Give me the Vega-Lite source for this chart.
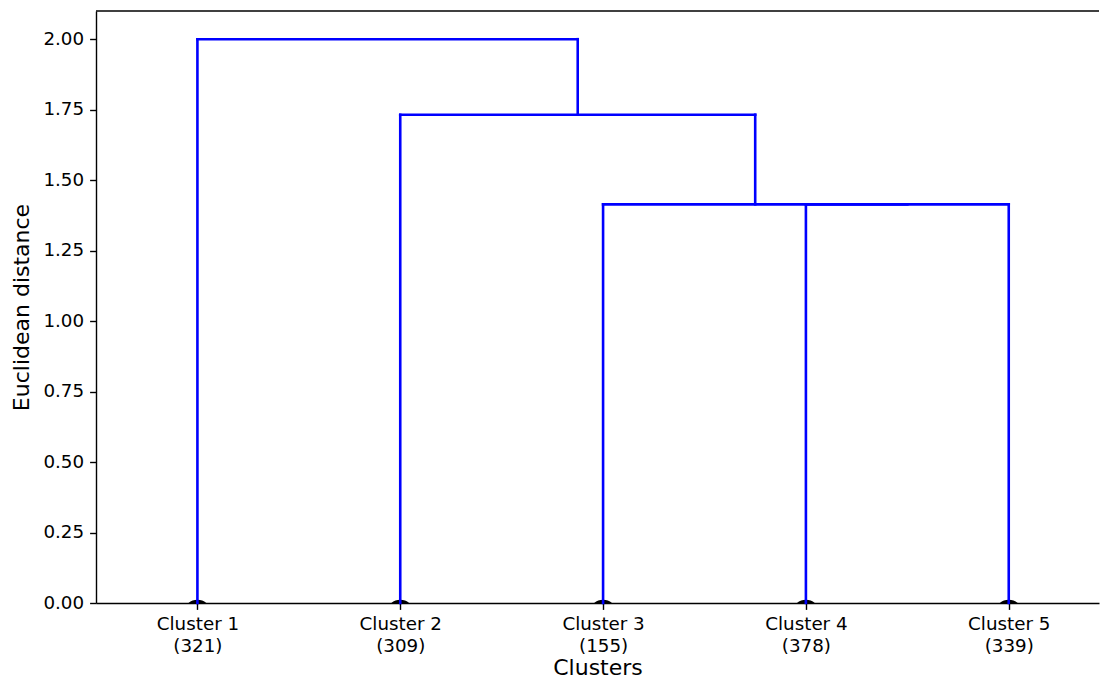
{
  "$schema": "https://vega.github.io/schema/vega-lite/v6.json",
  "autosize": "none",
  "width": 1003,
  "height": 592,
  "padding": {"left": 96, "top": 11, "right": 2, "bottom": 77},
  "background": "white",
  "config": {
    "font": "DejaVu Sans",
    "view": {"stroke": null},
    "axis": {
      "grid": false,
      "domainColor": "black",
      "domainWidth": 1.4,
      "tickColor": "black",
      "tickWidth": 1.4,
      "tickSize": 6.4,
      "labelFont": "DejaVu Sans",
      "labelFontSize": 18.3,
      "labelColor": "black",
      "labelPadding": 6,
      "titleFont": "DejaVu Sans",
      "titleFontSize": 22,
      "titleFontWeight": "normal",
      "titleColor": "black"
    }
  },
  "datasets": {
    "links": [
      {"xa": 35, "ya": 0, "xb": 35, "yb": 1.4142},
      {"xa": 35, "ya": 1.4142, "xb": 45, "yb": 1.4142},
      {"xa": 45, "ya": 1.4142, "xb": 45, "yb": 0},
      {"xa": 25, "ya": 0, "xb": 25, "yb": 1.4142},
      {"xa": 25, "ya": 1.4142, "xb": 40, "yb": 1.4142},
      {"xa": 15, "ya": 0, "xb": 15, "yb": 1.7321},
      {"xa": 15, "ya": 1.7321, "xb": 32.5, "yb": 1.7321},
      {"xa": 32.5, "ya": 1.7321, "xb": 32.5, "yb": 1.4142},
      {"xa": 5, "ya": 0, "xb": 5, "yb": 2.0},
      {"xa": 5, "ya": 2.0, "xb": 23.75, "yb": 2.0},
      {"xa": 23.75, "ya": 2.0, "xb": 23.75, "yb": 1.7321}
    ],
    "leaves": [
      {"pos": 5, "cluster": "Cluster 1", "count": 321},
      {"pos": 15, "cluster": "Cluster 2", "count": 309},
      {"pos": 25, "cluster": "Cluster 3", "count": 155},
      {"pos": 35, "cluster": "Cluster 4", "count": 378},
      {"pos": 45, "cluster": "Cluster 5", "count": 339}
    ]
  },
  "layer": [
    {
      "data": {"name": "leaves"},
      "mark": {"type": "point", "shape": "circle", "filled": true, "color": "black", "opacity": 1, "size": 800, "clip": true},
      "encoding": {
        "x": {"field": "pos", "type": "quantitative",
          "scale": {"domain": [0, 49.45], "nice": false, "zero": false},
          "axis": {
            "title": "Clusters",
            "values": [5, 15, 25, 35, 45],
            "labelExpr": "['Cluster ' + round((datum.value + 5) / 10), ['(321)', '(309)', '(155)', '(378)', '(339)'][round((datum.value - 5) / 10)]]",
            "labelLineHeight": 22,
            "labelBaseline": "top",
            "titlePadding": 3
          }
        },
        "y": {"datum": -0.039, "type": "quantitative",
          "scale": {"domain": [0, 2.1], "nice": false, "zero": false},
          "axis": {
            "title": "Euclidean distance",
            "values": [0, 0.25, 0.5, 0.75, 1.0, 1.25, 1.5, 1.75, 2.0],
            "format": ".2f",
            "titlePadding": 9
          }
        }
      }
    },
    {
      "data": {"name": "links"},
      "mark": {"type": "rule", "color": "#0000ff", "strokeWidth": 2.6, "strokeCap": "square"},
      "encoding": {
        "x": {"field": "xa", "type": "quantitative"},
        "x2": {"field": "xb"},
        "y": {"field": "ya", "type": "quantitative"},
        "y2": {"field": "yb"}
      }
    },
    {
      "data": {"values": [{}]},
      "mark": {"type": "rule", "color": "black", "strokeWidth": 1.4},
      "encoding": {
        "y": {"datum": 2.1, "type": "quantitative"}
      }
    }
  ]
}
